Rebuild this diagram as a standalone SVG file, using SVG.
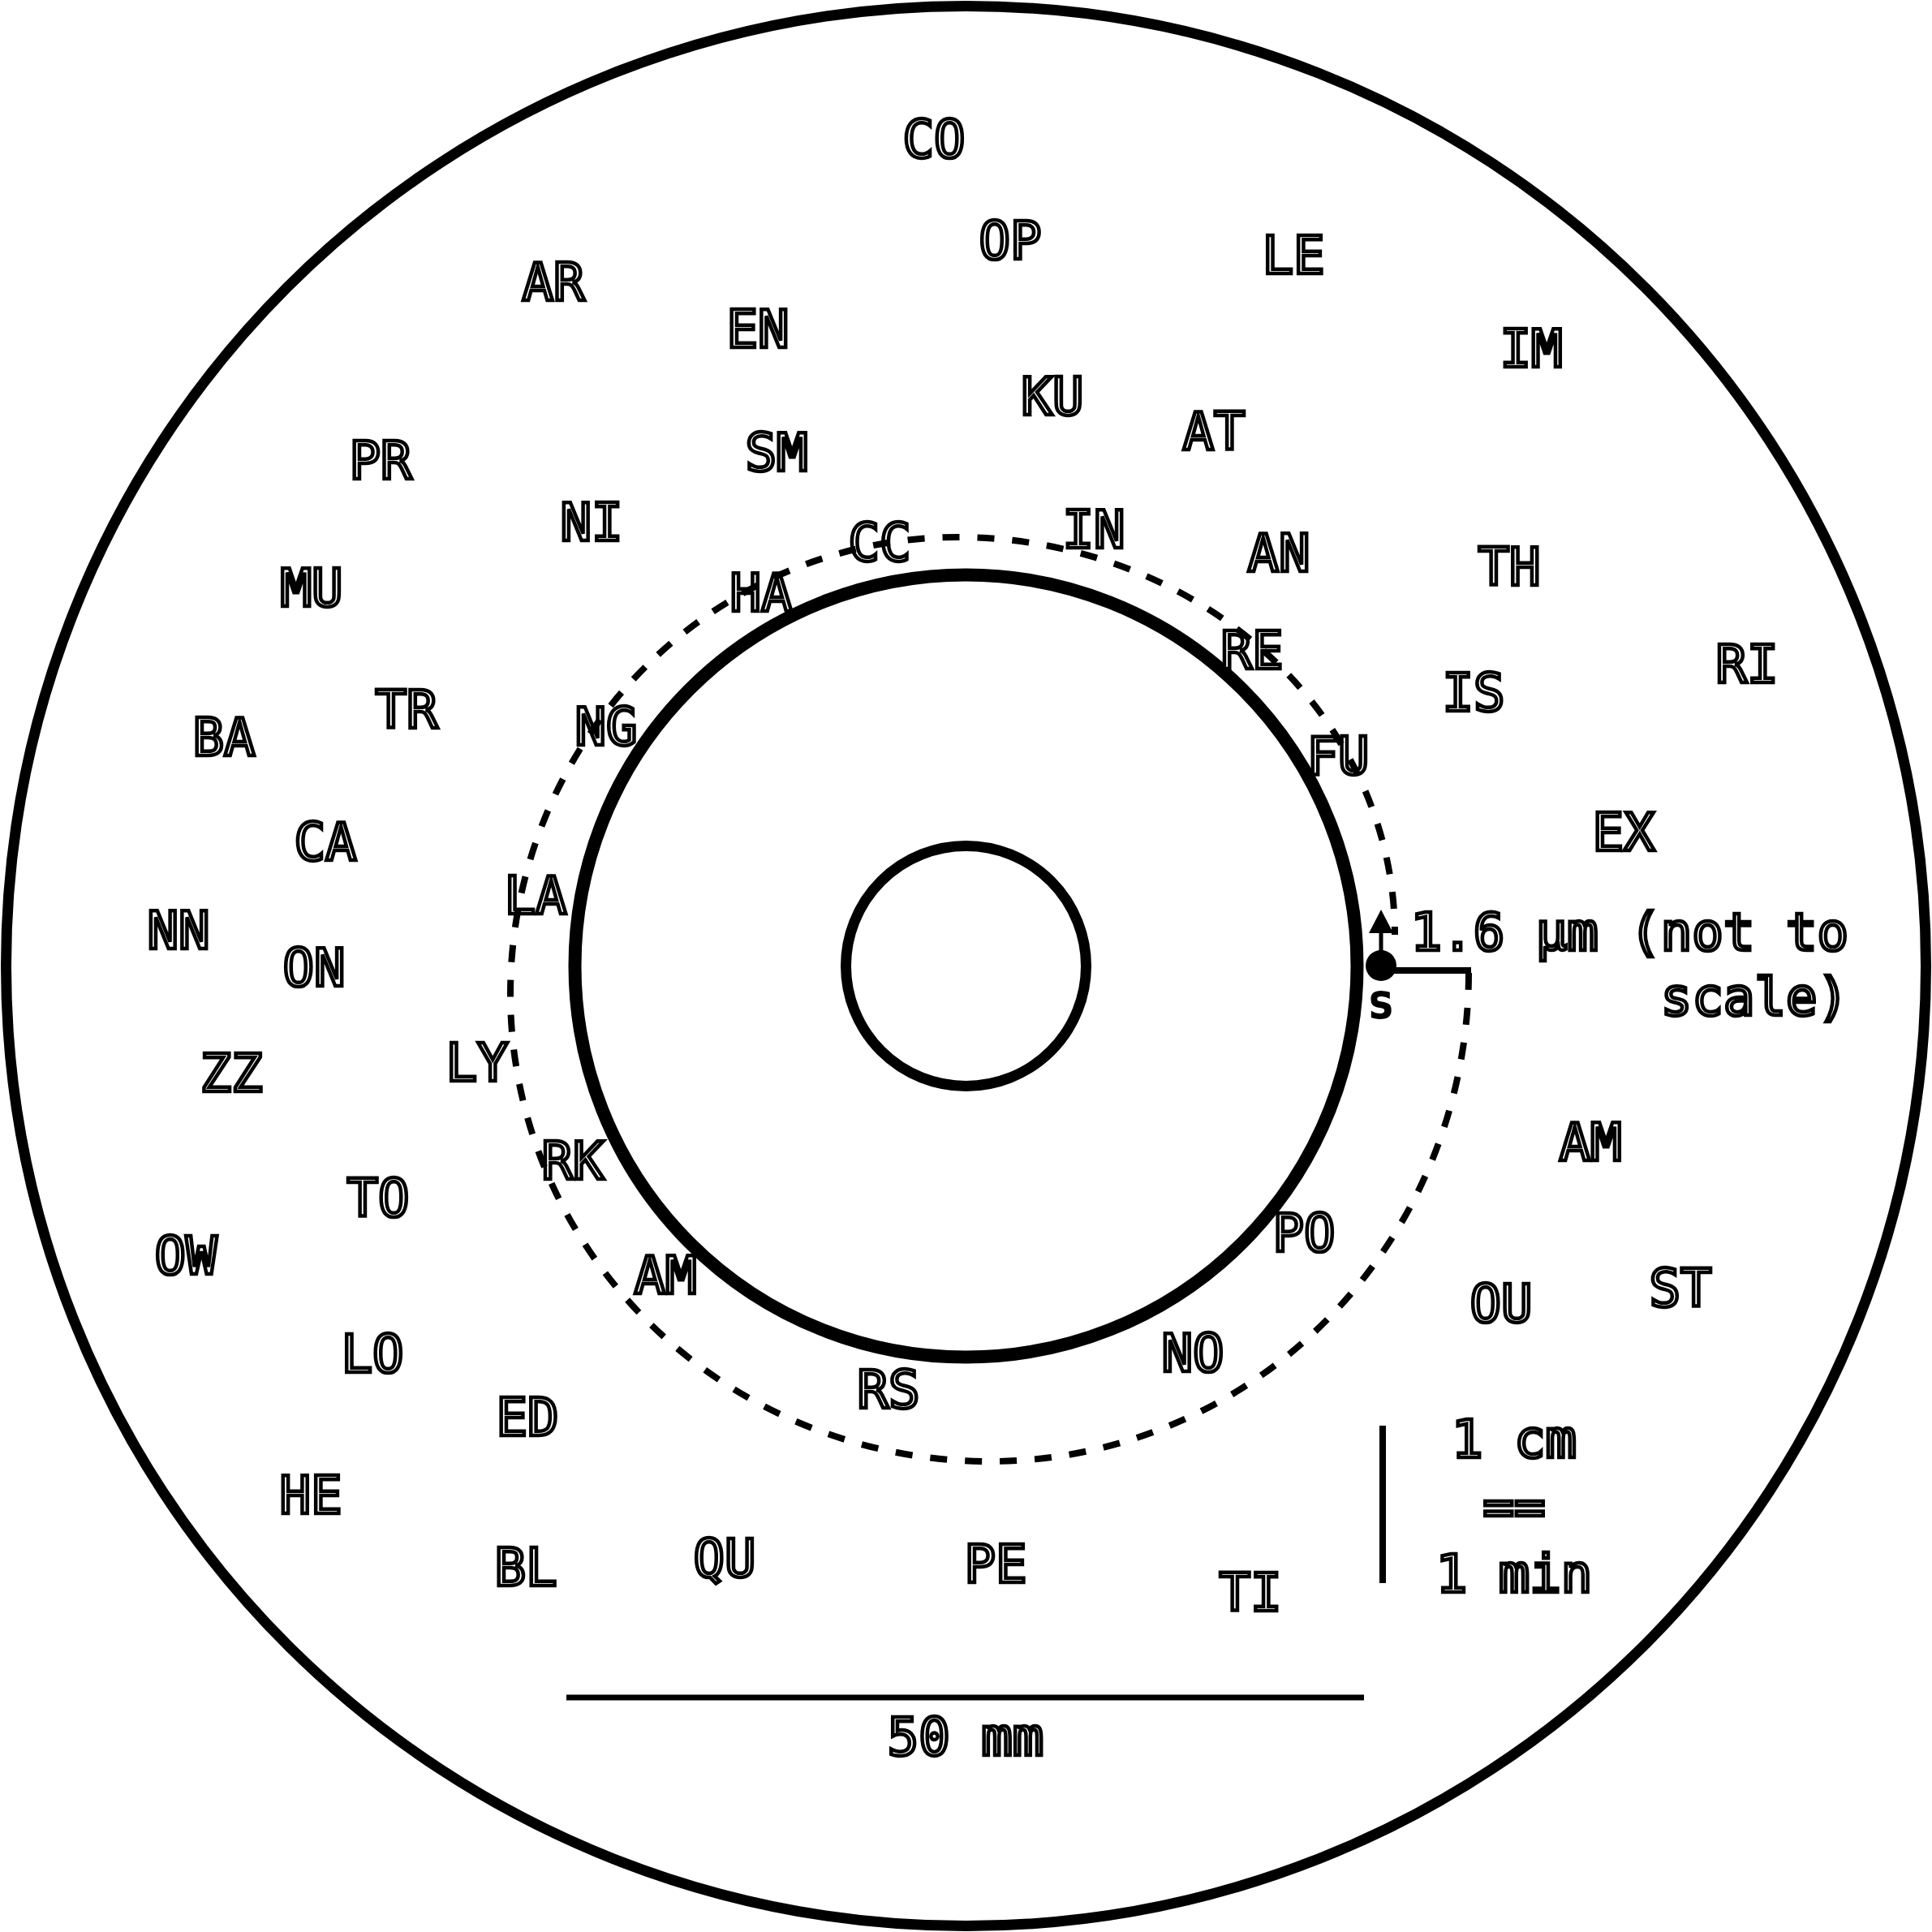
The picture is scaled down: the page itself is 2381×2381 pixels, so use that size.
<svg xmlns="http://www.w3.org/2000/svg" width="2381" height="2381" viewBox="0 0 2381 2381">
<style>
.lbl{font-family:"DejaVu Sans Mono","Liberation Mono",monospace;font-size:64px;fill:#fff;stroke:#000;stroke-width:4.5px;text-anchor:middle}
.ring{fill:none;stroke:#000}
.bar{stroke:#000;fill:none}
</style>
<rect width="2381" height="2381" fill="#fff"/>
<circle class="ring" cx="1190.5" cy="1190.5" r="1183" stroke-width="13"/>
<circle class="ring" cx="1190.5" cy="1190.5" r="482" stroke-width="16"/>
<circle class="ring" cx="1190.5" cy="1190.5" r="148" stroke-width="13"/>
<g id="nodes">
<g id="n-CO"><text class="lbl" x="1151" y="194">CO</text></g>
<g id="n-OP"><text class="lbl" x="1245" y="319">OP</text></g>
<g id="n-LE"><text class="lbl" x="1594" y="337">LE</text></g>
<g id="n-AR"><text class="lbl" x="682" y="370">AR</text></g>
<g id="n-EN"><text class="lbl" x="934" y="428">EN</text></g>
<g id="n-IM"><text class="lbl" x="1887" y="452">IM</text></g>
<g id="n-KU"><text class="lbl" x="1297" y="511">KU</text></g>
<g id="n-AT"><text class="lbl" x="1496" y="554">AT</text></g>
<g id="n-PR"><text class="lbl" x="469" y="590">PR</text></g>
<g id="n-SM"><text class="lbl" x="957" y="580">SM</text></g>
<g id="n-NI"><text class="lbl" x="729" y="666">NI</text></g>
<g id="n-IN"><text class="lbl" x="1348" y="675">IN</text></g>
<g id="n-CC"><text class="lbl" x="1084" y="691">CC</text></g>
<g id="n-AN"><text class="lbl" x="1576" y="704">AN</text></g>
<g id="n-TH"><text class="lbl" x="1860" y="721">TH</text></g>
<g id="n-MU"><text class="lbl" x="384" y="747">MU</text></g>
<g id="n-HA"><text class="lbl" x="938" y="753">HA</text></g>
<g id="n-RE"><text class="lbl" x="1543" y="824">RE</text></g>
<g id="n-RI"><text class="lbl" x="2153" y="841">RI</text></g>
<g id="n-IS"><text class="lbl" x="1816" y="876">IS</text></g>
<g id="n-TR"><text class="lbl" x="501" y="897">TR</text></g>
<g id="n-NG"><text class="lbl" x="747" y="918">NG</text></g>
<g id="n-BA"><text class="lbl" x="276" y="931">BA</text></g>
<g id="n-FU"><text class="lbl" x="1649" y="954">FU</text></g>
<g id="n-EX"><text class="lbl" x="2001" y="1048">EX</text></g>
<g id="n-CA"><text class="lbl" x="401" y="1060">CA</text></g>
<g id="n-LA"><text class="lbl" x="660" y="1126">LA</text></g>
<g id="n-NN"><text class="lbl" x="220" y="1169">NN</text></g>
<g id="n-ON"><text class="lbl" x="387" y="1215">ON</text></g>
<g id="n-ZZ"><text class="lbl" x="285" y="1345">ZZ</text></g>
<g id="n-LY"><text class="lbl" x="588" y="1332">LY</text></g>
<g id="n-AM1"><text class="lbl" x="1960" y="1430">AM</text></g>
<g id="n-RK"><text class="lbl" x="706" y="1453">RK</text></g>
<g id="n-TO"><text class="lbl" x="466" y="1499">TO</text></g>
<g id="n-PO"><text class="lbl" x="1607" y="1542">PO</text></g>
<g id="n-OW"><text class="lbl" x="229" y="1570">OW</text></g>
<g id="n-AM2"><text class="lbl" x="820" y="1594">AM</text></g>
<g id="n-ST"><text class="lbl" x="2071" y="1610">ST</text></g>
<g id="n-OU"><text class="lbl" x="1850" y="1629">OU</text></g>
<g id="n-LO"><text class="lbl" x="459" y="1691">LO</text></g>
<g id="n-NO"><text class="lbl" x="1470" y="1690">NO</text></g>
<g id="n-RS"><text class="lbl" x="1095" y="1735">RS</text></g>
<g id="n-ED"><text class="lbl" x="650" y="1769">ED</text></g>
<g id="n-HE"><text class="lbl" x="383" y="1865">HE</text></g>
<g id="n-QU"><text class="lbl" x="893" y="1943">QU</text></g>
<g id="n-PE"><text class="lbl" x="1227" y="1950">PE</text></g>
<g id="n-BL"><text class="lbl" x="648" y="1954">BL</text></g>
<g id="n-TI"><text class="lbl" x="1541" y="1985">TI</text></g>
</g>
<g id="connectors">
<path d="M 1810 1199 A 590 602 0 0 1 1220 1801 A 591 576 0 0 1 629 1225 A 551 563 0 0 1 1180 662 A 539 490 0 0 1 1719 1152" fill="none" stroke="#000" stroke-width="8" stroke-dasharray="21 22"/>
<line x1="1702" y1="1196" x2="1813" y2="1196" stroke="#000" stroke-width="8"/>
<line x1="1702" y1="1190" x2="1702" y2="1146" stroke="#000" stroke-width="5"/>
<polygon points="1702,1121 1687,1150 1717,1150" fill="#000"/>
</g>
<g id="s-marker">
<circle cx="1702" cy="1190" r="19" fill="#000"/>
<text transform="translate(1702,1255) scale(0.85,1)" x="0" y="0" font-family="DejaVu Sans, sans-serif" font-size="60" font-weight="bold" text-anchor="middle" fill="#000">s</text>
</g>
<g id="note-size">
<text class="lbl" x="2278" y="1171" style="text-anchor:end">1.6 µm (not to</text>
<text class="lbl" x="2278" y="1251" style="text-anchor:end">scale)</text>
</g>
<g id="scale-time">
<line class="bar" x1="1704" y1="1757" x2="1704" y2="1951" stroke-width="8"/>
<text class="lbl" x="1866" y="1796">1 cm</text>
<text class="lbl" x="1866" y="1879">==</text>
<text class="lbl" x="1866" y="1962">1 min</text>
</g>
<g id="scale-length">
<line class="bar" x1="698" y1="2092" x2="1681" y2="2092" stroke-width="7"/>
<text class="lbl" x="1190" y="2163">50 mm</text>
</g>
</svg>
